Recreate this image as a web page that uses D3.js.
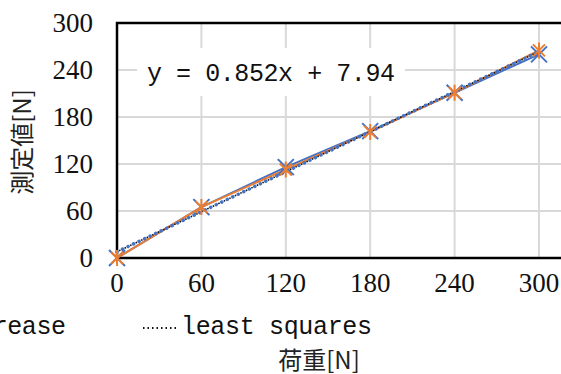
<html>
    <head>
        <script src="https://d3js.org/d3.v7.min.js"></script>
        <style>
            body { margin:0; background:white; }
            .grid { stroke:#d9d9d9; stroke-width:2px; }
            .frame { stroke:black; stroke-width:2.5px; fill:none; }
            .tick { font-family:"Liberation Serif", serif; font-size:27px; fill:#111; }
            .mono { font-family:"Liberation Mono", monospace; font-size:25px; fill:#111; }
            .title { font-family:"Noto Sans CJK JP", sans-serif; font-size:24px; fill:#222; }
        </style>
    </head>
    <body>
        <svg id="chart" width="561" height="374"></svg>
        <script>
            // load values [N]
            const loads = [0, 60, 120, 180, 240, 300];
            // measured values [N]
            const increase = [0, 65, 116, 162, 211, 260];
            const decrease = [0, 65, 113, 161, 211, 265];
            const slope = 0.852, intercept = 7.94;
            const xTicks = [0, 60, 120, 180, 240, 300];
            const yTicks = [0, 60, 120, 180, 240, 300];
            const legendNames = ["increase", "decrease", "least squares"];

            const svg = d3.select("#chart");
            const x = d3.scaleLinear().domain([0, 300]).range([117, 539]);
            const y = d3.scaleLinear().domain([0, 300]).range([258, 23]);
            const blue = "#4472C4", orange = "#ED7D31";

            // gridlines
            svg.selectAll(".hg").data(yTicks.slice(1)).enter().append("line")
               .attr("class", "grid")
               .attr("x1", x(0)).attr("x2", 600)
               .attr("y1", d => y(d)).attr("y2", d => y(d));
            svg.selectAll(".vg").data(xTicks.slice(1)).enter().append("line")
               .attr("class", "grid")
               .attr("x1", d => x(d)).attr("x2", d => x(d))
               .attr("y1", y(300)).attr("y2", y(0));

            // frame (right side is cut off)
            svg.append("path").attr("class", "frame")
               .attr("d", "M600," + y(300) + "H" + x(0) + "V" + y(0) + "H600");

            // equation label box
            svg.append("rect").attr("x", 137).attr("y", 48)
               .attr("width", 268).attr("height", 48).style("fill", "white");
            svg.append("text").attr("class", "mono")
               .attr("x", 147).attr("y", 81)
               .attr("textLength", 248).attr("lengthAdjust", "spacing")
               .text("y = " + slope + "x + " + intercept);

            const line = d3.line().x((d, i) => x(loads[i])).y(d => y(d));

            svg.append("path").datum(increase).attr("d", line)
               .style("fill", "none").style("stroke", blue).style("stroke-width", 2);
            svg.append("path").datum(decrease).attr("d", line)
               .style("fill", "none").style("stroke", orange).style("stroke-width", 2);

            // least squares line
            const trendX = [0, 300];
            const trend = d3.line().x(d => x(d)).y(d => y(slope * d + intercept));
            svg.append("path").datum(trendX).attr("d", trend)
               .style("fill", "none").style("stroke", blue).style("stroke-width", 3.5)
               .style("stroke-dasharray", "0.1,6").style("stroke-linecap", "round");
            svg.append("path").datum(trendX).attr("d", trend)
               .style("fill", "none").style("stroke", "#111").style("stroke-width", 1.6)
               .style("stroke-dasharray", "1.5,4.6").style("stroke-dashoffset", 3.8);

            // markers
            const s = 8;
            increase.forEach((v, i) => {
                const g = svg.append("g").attr("transform", "translate(" + x(loads[i]) + "," + y(v) + ")");
                g.append("path").attr("d", `M${-s},${-s}L${s},${s}M${-s},${s}L${s},${-s}`)
                 .style("stroke", blue).style("stroke-width", 2);
            });
            decrease.forEach((v, i) => {
                const g = svg.append("g").attr("transform", "translate(" + x(loads[i]) + "," + y(v) + ")");
                g.append("path").attr("d", `M${-s*0.75},${-s*0.75}L${s*0.75},${s*0.75}M${-s*0.75},${s*0.75}L${s*0.75},${-s*0.75}M0,${-s}V${s}`)
                 .style("stroke", orange).style("stroke-width", 2);
            });

            // tick labels
            svg.selectAll(".yl").data(yTicks).enter().append("text")
               .attr("class", "tick").attr("text-anchor", "end")
               .attr("x", 93).attr("y", d => y(d) + 9).text(d => d);
            svg.selectAll(".xl").data(xTicks).enter().append("text")
               .attr("class", "tick").attr("text-anchor", "middle")
               .attr("x", d => x(d)).attr("y", 292).text(d => d);

            // legend (left part cut off)
            svg.append("line").attr("x1", -130).attr("x2", -92).attr("y1", 327).attr("y2", 327)
               .style("stroke", blue).style("stroke-width", 2);
            svg.append("text").attr("class", "mono").attr("x", -51).attr("y", 334)
               .attr("textLength", 117).attr("lengthAdjust", "spacing").text(legendNames[1]);
            svg.append("line").attr("x1", 143).attr("x2", 179).attr("y1", 328).attr("y2", 328)
               .style("stroke", "#111").style("stroke-width", 2)
               .style("stroke-dasharray", "1.5,3");
            svg.append("text").attr("class", "mono").attr("x", 181).attr("y", 334)
               .attr("textLength", 191).attr("lengthAdjust", "spacing").text(legendNames[2]);

            // axis titles
            svg.append("text").attr("class", "title").attr("text-anchor", "middle")
               .attr("x", 319).attr("y", 369).text("荷重[N]");
            svg.append("text").attr("class", "title").attr("text-anchor", "middle")
               .attr("transform", "translate(31,142) rotate(-90)").text("測定値[N]");
        </script>
    </body>
</html>
